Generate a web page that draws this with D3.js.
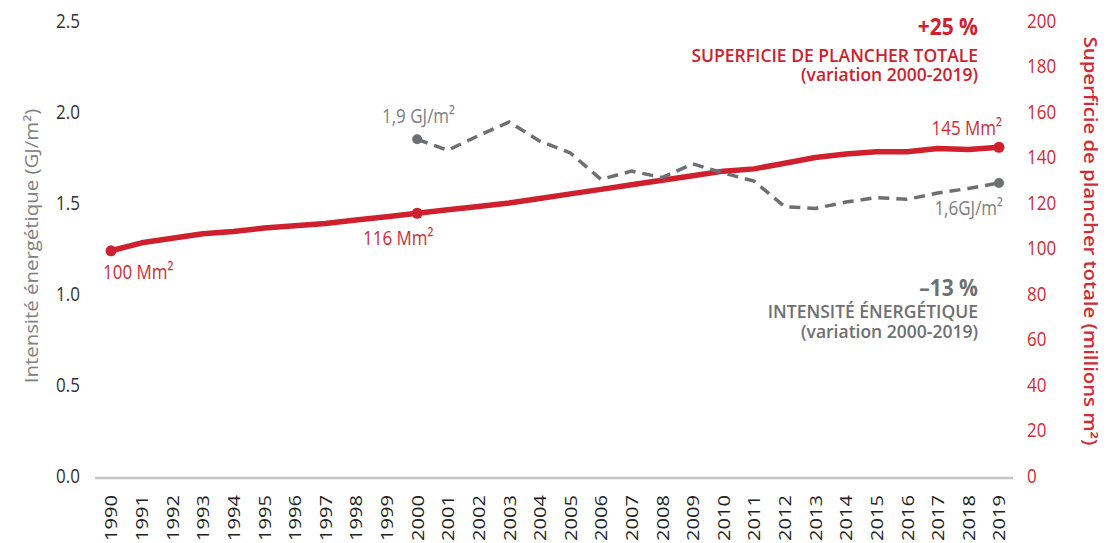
<!DOCTYPE html>
<html>
<head>
<meta charset="utf-8">
<script src="https://cdn.jsdelivr.net/npm/d3@7.9.0/dist/d3.min.js"></script>
<style>
  body { margin: 0; background: #fff; }
  svg { display: block; font-family: "Open Sans", sans-serif; }
</style>
</head>
<body>
<svg id="chart" width="1117" height="543"></svg>
<script>
// data
const years = d3.range(1990, 2020);
const floorArea = [99, 102.5, 104.5, 106.5, 107.5, 109, 110, 111, 112.5, 114,
  115.5, 117, 118.5, 120, 122, 124, 126, 128, 130, 132,
  134, 135, 137.5, 140, 141.5, 142.5, 142.5, 144, 143.5, 144.5];
const intensityYears = d3.range(2000, 2020);
const intensity = [1.85, 1.79, 1.87, 1.945, 1.84, 1.775, 1.63, 1.675, 1.64, 1.715,
  1.665, 1.62, 1.48, 1.47, 1.505, 1.53, 1.52, 1.555, 1.58, 1.61];
const leftTicks = [0, 0.5, 1, 1.5, 2, 2.5];
const rightTicks = d3.range(0, 201, 20);

const red = '#d0202e';
const redText = '#d42a35';
const grey = '#6e6f72';
const greyText = '#808080';
const stretch = 1.18; // text in the source is drawn a bit taller than wide

const svg = d3.select('#chart');

const x = d3.scalePoint().domain(years).range([111, 999]);
const yL = d3.scaleLinear().domain([0, 2.5]).range([476, 21]);
const yR = d3.scaleLinear().domain([0, 200]).range([476, 21]);

// baseline
svg.append('line')
  .attr('x1', 95).attr('x2', 1013)
  .attr('y1', 478).attr('y2', 478)
  .attr('stroke', '#c4c4c4').attr('stroke-width', 2.5);

// left axis
const gL = svg.append('g').attr('transform', 'translate(80,0)')
  .call(d3.axisLeft(yL).tickValues(leftTicks).tickFormat(d3.format('.1f')).tickSize(0).tickPadding(0));
gL.select('.domain').remove();
gL.selectAll('text')
  .attr('fill', '#333').attr('font-size', 17).attr('font-family', '"Open Sans", sans-serif')
  .attr('transform', `scale(1,${stretch})`);

// right axis
const gR = svg.append('g').attr('transform', 'translate(1024,0)')
  .call(d3.axisRight(yR).tickValues(rightTicks).tickSize(0).tickPadding(3));
gR.select('.domain').remove();
gR.selectAll('text')
  .attr('fill', redText).attr('font-size', 17).attr('font-family', '"Open Sans", sans-serif')
  .attr('transform', `scale(1,${stretch})`);

// bottom axis, vertical year labels
const gX = svg.append('g').attr('transform', 'translate(0,478)')
  .call(d3.axisBottom(x).tickSize(0));
gX.select('.domain').remove();
gX.selectAll('text')
  .attr('fill', '#222').attr('font-size', 17).attr('font-family', '"Open Sans", sans-serif')
  .attr('text-anchor', 'end')
  .attr('x', -14.5).attr('y', 0).attr('dy', '0.35em')
  .attr('transform', `rotate(-90) scale(${stretch},1)`);

// axis titles
svg.append('text')
  .attr('transform', `translate(38,246) rotate(-90) scale(${stretch},1)`)
  .attr('text-anchor', 'middle')
  .attr('fill', greyText).attr('font-size', 17.3)
  .text('Intensité énergétique (GJ/m²)');

svg.append('text')
  .attr('transform', `translate(1084,241) rotate(90) scale(${stretch},1)`)
  .attr('text-anchor', 'middle')
  .attr('fill', redText).attr('font-size', 17.2).attr('font-weight', 600)
  .text('Superficie de plancher totale (millions m²)');

// floor area line
const areaLine = d3.line()
  .x((d, i) => x(years[i]))
  .y(d => yR(d));
svg.append('path')
  .datum(floorArea)
  .attr('fill', 'none').attr('stroke', red)
  .attr('stroke-width', 5.5).attr('stroke-linejoin', 'round').attr('stroke-linecap', 'round')
  .attr('d', areaLine);

// intensity line (dashed)
const intLine = d3.line()
  .x((d, i) => x(intensityYears[i]))
  .y(d => yL(d));
svg.append('path')
  .datum(intensity)
  .attr('fill', 'none').attr('stroke', grey)
  .attr('stroke-width', 3.5).attr('stroke-dasharray', '11,7')
  .attr('d', intLine);

// end points
[1990, 2000, 2019].forEach(yr => {
  svg.append('circle')
    .attr('cx', x(yr)).attr('cy', yR(floorArea[years.indexOf(yr)]))
    .attr('r', 5.5).attr('fill', red);
});
[2000, 2019].forEach(yr => {
  svg.append('circle')
    .attr('cx', x(yr)).attr('cy', yL(intensity[intensityYears.indexOf(yr)]))
    .attr('r', 5).attr('fill', grey);
});

// text helper
function label(px, py, str, opts) {
  const s = opts.stretch || stretch;
  return svg.append('text')
    .attr('transform', `translate(${px},${py}) scale(1,${s})`)
    .attr('text-anchor', opts.anchor || 'start')
    .attr('fill', opts.color)
    .attr('font-size', opts.size || 16)
    .attr('font-weight', opts.weight || 400)
    .text(str);
}

// point labels
label(103, 279, '100 Mm²', { color: redText, size: 17 });
label(363, 245, '116 Mm²', { color: redText, size: 17 });
label(1002, 135, '145 Mm²', { color: redText, size: 17, anchor: 'end' });
label(382, 123, '1,9 GJ/m²', { color: greyText, size: 17 });
label(1003, 215, '1,6GJ/m²', { color: greyText, size: 17, anchor: 'end' });

// annotations
label(978, 35, '+25 %', { color: red, size: 21, weight: 700, anchor: 'end', stretch: 1.08 });
label(978, 62, 'SUPERFICIE DE PLANCHER TOTALE', { color: red, size: 17.5, weight: 600, anchor: 'end', stretch: 1 });
label(978, 81, '(variation 2000-2019)', { color: red, size: 17.5, weight: 600, anchor: 'end', stretch: 1 });

label(978, 296, '–13 %', { color: grey, size: 21, weight: 700, anchor: 'end', stretch: 1.08 });
label(978, 318, 'INTENSITÉ ÉNERGÉTIQUE', { color: grey, size: 17.5, weight: 600, anchor: 'end', stretch: 1 });
label(978, 338, '(variation 2000-2019)', { color: grey, size: 17.5, weight: 600, anchor: 'end', stretch: 1 });
</script>
</body>
</html>
